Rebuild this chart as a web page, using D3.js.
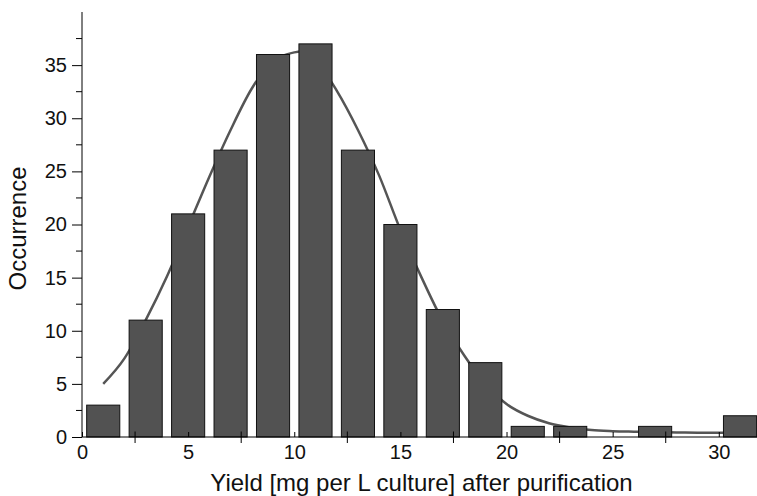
<!DOCTYPE html>
<html>
<head>
<meta charset="utf-8">
<script src="https://cdn.jsdelivr.net/npm/d3@7/dist/d3.min.js"></script>
<style>
  html, body { margin: 0; padding: 0; background: #fff; }
  svg { display: block; }
  text { font-family: "Liberation Sans", Arial, Helvetica, sans-serif; fill: #111; }
</style>
</head>
<body>
<svg id="chart" width="757" height="496"></svg>
<script>
// ---- data ----
const binCenters = [1, 3, 5, 7, 9, 11, 13, 15, 17, 19, 21, 23, 25, 27, 29, 31];
const occurrences = [3, 11, 21, 27, 36, 37, 27, 20, 12, 7, 1, 1, 0, 1, 0, 2];
const fitX = [1, 2, 3, 4, 5, 6, 7, 8, 9, 10, 10.5, 11, 12, 13, 14, 15, 16, 17, 18, 19, 20, 21, 22, 23, 24, 25, 26, 27, 28, 29, 30.5];
const fitY = [5.0, 7.4, 11.0, 15.1, 19.8, 24.5, 28.9, 32.8, 35.4, 36.2, 36.3, 35.5, 32.6, 28.9, 24.6, 19.5, 15.0, 10.9, 7.7, 5.0, 3.1, 2.0, 1.3, 0.9, 0.65, 0.55, 0.5, 0.46, 0.43, 0.41, 0.4];
const xMajorTicks = [0, 5, 10, 15, 20, 25, 30];
const xMinorTicks = [2.5, 7.5, 12.5, 17.5, 22.5, 27.5];
const yMajorTicks = [0, 5, 10, 15, 20, 25, 30, 35];
const yMinorTicks = [2.5, 7.5, 12.5, 17.5, 22.5, 27.5, 32.5, 37.5];
const xTitle = "Yield [mg per L culture] after purification";
const yTitle = "Occurrence";

// ---- layout ----
const padL = 82, padR = 757, padT = 12, padB = 437;
const binWidth = 1.56;

const svg = d3.select("#chart");
const x = d3.scaleLinear().domain([0, 31.8]).range([padL, padR]);
const y = d3.scaleLinear().domain([0, 40]).range([padB, padT]);

// fit curve (behind bars)
const fitData = fitX.map((v, i) => [v, fitY[i]]);
svg.append("path")
  .datum(fitData)
  .attr("fill", "none")
  .attr("stroke", "#555")
  .attr("stroke-width", 2.5)
  .attr("d", d3.line().x(d => x(d[0])).y(d => y(d[1])).curve(d3.curveMonotoneX));

// bars
const bars = binCenters.map((c, i) => ({ c, v: occurrences[i] })).filter(d => d.v > 0);
svg.append("g").selectAll("rect")
  .data(bars)
  .join("rect")
  .attr("x", d => x(d.c - binWidth / 2))
  .attr("width", d => x(d.c + binWidth / 2) - x(d.c - binWidth / 2))
  .attr("y", d => y(d.v))
  .attr("height", d => y(0) - y(d.v))
  .attr("fill", "#525252")
  .attr("stroke", "#111")
  .attr("stroke-width", 1);

// y axis
const yAxis = svg.append("g").attr("transform", `translate(${padL},0)`);
yAxis.call(d3.axisLeft(y).tickValues(yMajorTicks).tickSize(10).tickPadding(5).tickFormat(d3.format("d")));
yAxis.append("g").selectAll("line").data(yMinorTicks).join("line")
  .attr("x1", -6).attr("x2", 0)
  .attr("y1", d => y(d)).attr("y2", d => y(d))
  .attr("stroke", "#000");
yAxis.select(".domain").attr("d", `M0,${padT}V${padB}`);
yAxis.selectAll("text").style("font-size", "20px").attr("fill", "#111")
  .style("font-family", '"Liberation Sans", Arial, sans-serif');

// x axis
const xAxis = svg.append("g").attr("transform", `translate(0,${padB})`);
xAxis.call(d3.axisBottom(x).tickValues(xMajorTicks).tickSize(0).tickPadding(8).tickFormat(d3.format("d")));
xAxis.select(".domain").attr("d", `M${padL},0H${padR}`);
xAxis.selectAll(".tick line").attr("y1", -5).attr("y2", 0);
xAxis.append("g").selectAll("line").data(xMinorTicks).join("line")
  .attr("x1", d => x(d)).attr("x2", d => x(d))
  .attr("y1", -5.5).attr("y2", 6)
  .attr("stroke", "#000");
xAxis.selectAll("text").style("font-size", "20px").attr("fill", "#111")
  .style("font-family", '"Liberation Sans", Arial, sans-serif');

// titles
svg.append("text")
  .attr("x", (padL + padR) / 2 + 2)
  .attr("y", 491)
  .attr("text-anchor", "middle")
  .style("font-size", "24px")
  .text(xTitle);

svg.append("text")
  .attr("transform", `translate(26,${(padT + padB) / 2 + 4}) rotate(-90)`)
  .attr("text-anchor", "middle")
  .style("font-size", "24px")
  .text(yTitle);
</script>
</body>
</html>
